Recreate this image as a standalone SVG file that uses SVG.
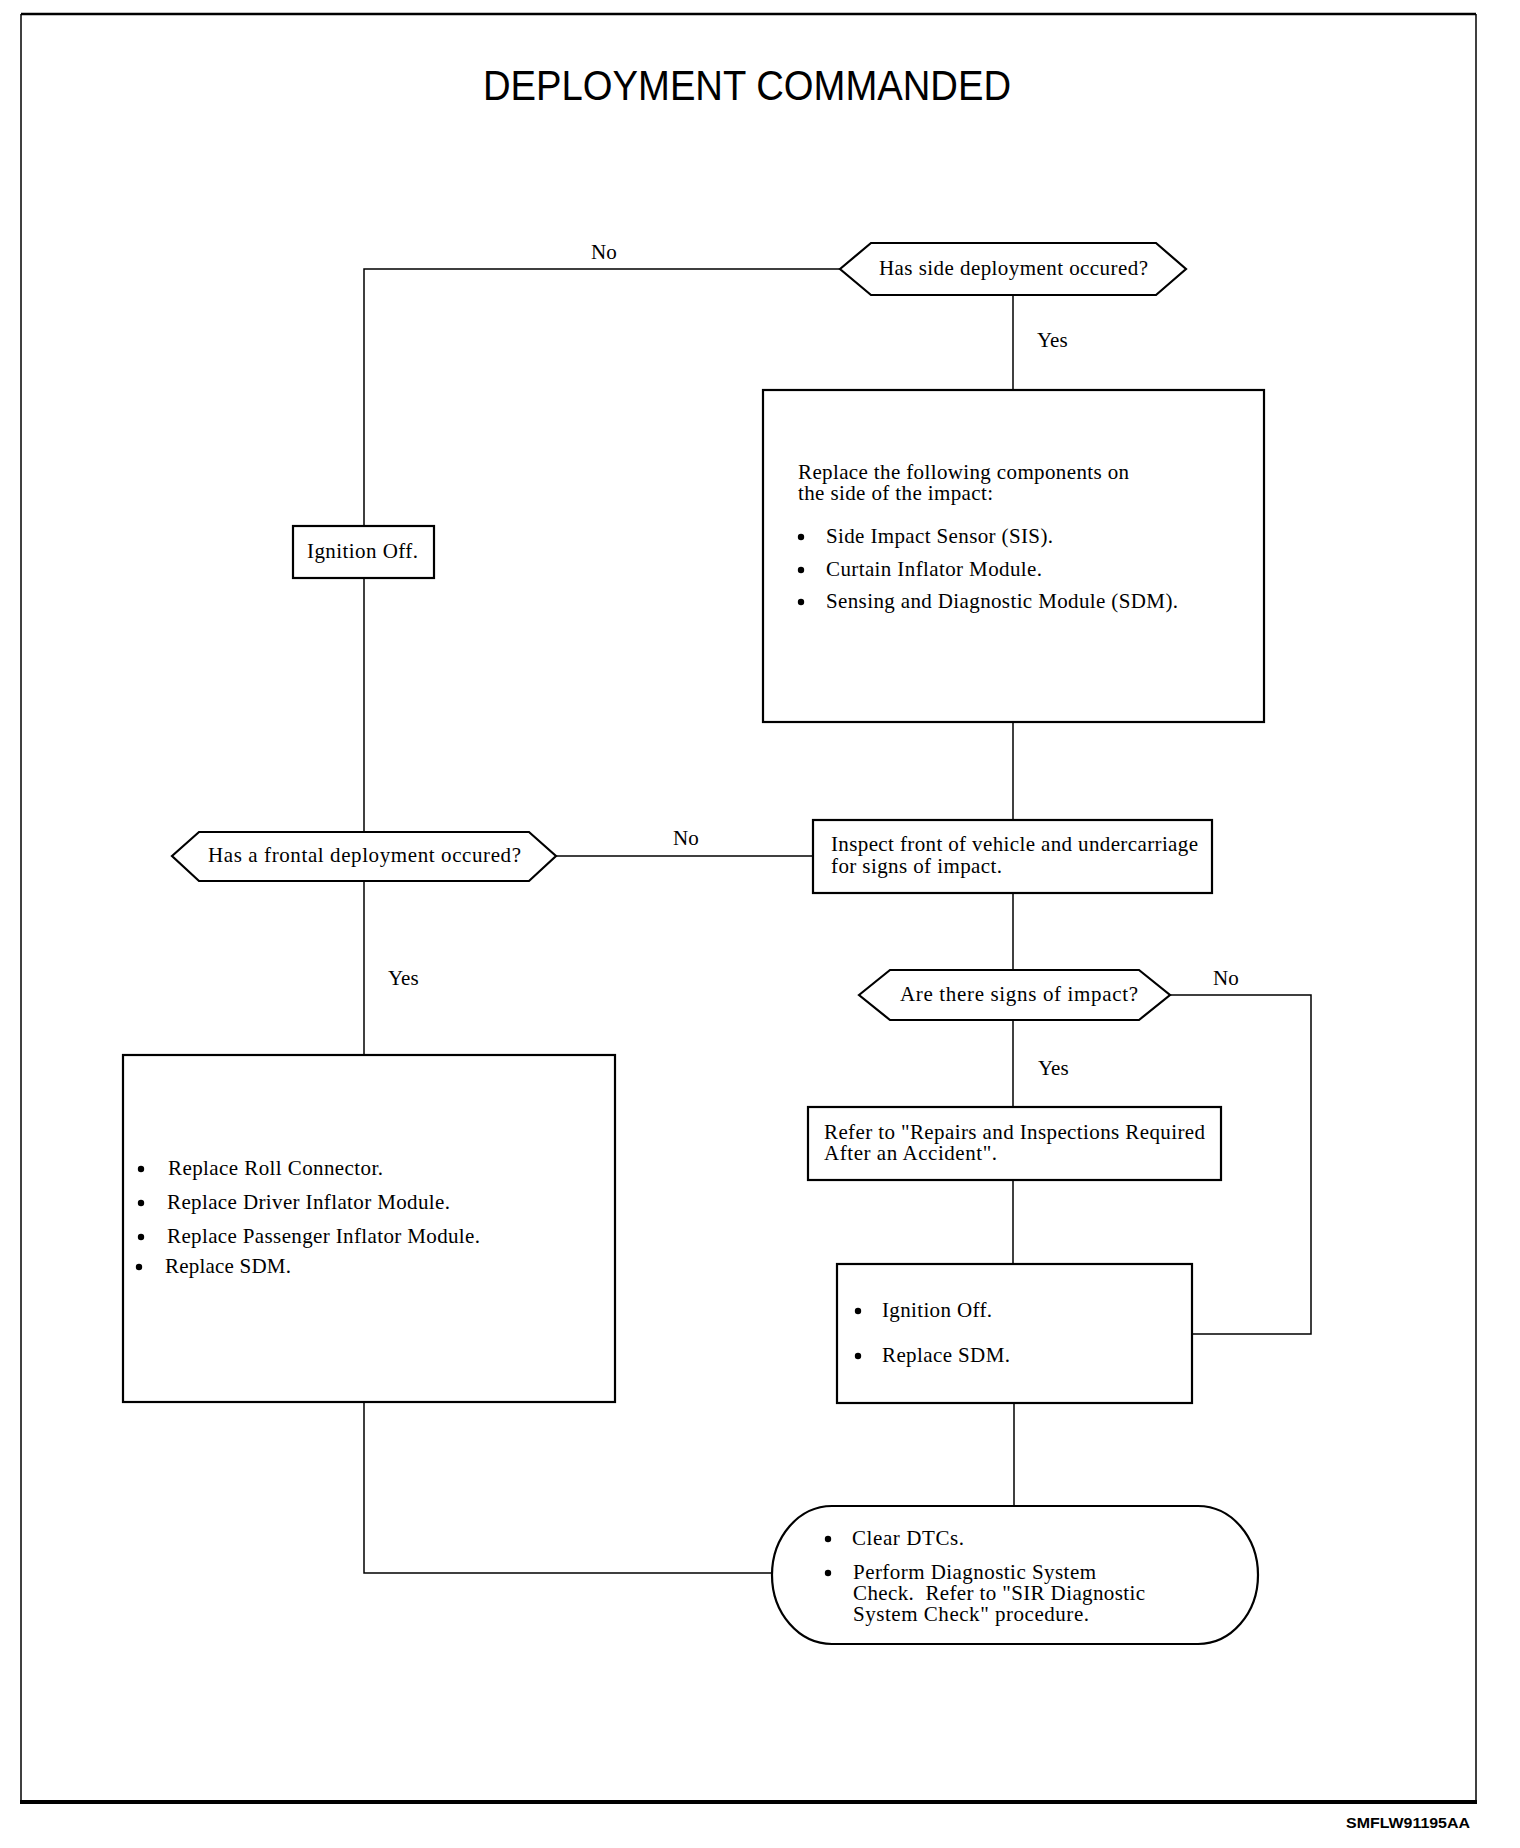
<svg xmlns="http://www.w3.org/2000/svg" width="1520" height="1848" viewBox="0 0 1520 1848">
<style>
.t{font-family:"Liberation Serif","Times New Roman",serif;font-size:21px;fill:#000}
.lb{font-family:"Liberation Serif","Times New Roman",serif;font-size:21px;fill:#000}
.box{fill:#fff;stroke:#000;stroke-width:2.2}
.ln{fill:none;stroke:#000;stroke-width:1.5}
.fr{stroke:#000;fill:none}
.b{fill:#000}
</style>
<rect width="1520" height="1848" fill="#fff"/>
<g id="frame">
<line class="fr" x1="21" y1="14" x2="1476" y2="14" stroke-width="2.5"/>
<line class="fr" x1="21" y1="14" x2="21" y2="1803" stroke-width="1.5"/>
<line class="fr" x1="1476" y1="14" x2="1476" y2="1803" stroke-width="1.5"/>
<line class="fr" x1="20" y1="1802" x2="1477" y2="1802" stroke-width="4"/>
</g>
<text id="title" x="483" y="100" font-family="'Liberation Sans',Arial,sans-serif" font-size="42" textLength="528" lengthAdjust="spacingAndGlyphs">DEPLOYMENT COMMANDED</text>
<text id="code" x="1346" y="1828" font-family="'Liberation Sans',Arial,sans-serif" font-size="15" font-weight="bold" textLength="124" lengthAdjust="spacingAndGlyphs">SMFLW91195AA</text>

<g id="connectors">
<polyline class="ln" points="840,269 364,269 364,526"/>
<line class="ln" x1="364" y1="578" x2="364" y2="832"/>
<line class="ln" x1="1013" y1="295" x2="1013" y2="390"/>
<line class="ln" x1="1013" y1="722" x2="1013" y2="820"/>
<line class="ln" x1="556" y1="856" x2="813" y2="856"/>
<line class="ln" x1="1013" y1="893" x2="1013" y2="970"/>
<line class="ln" x1="1013" y1="1020" x2="1013" y2="1107"/>
<line class="ln" x1="1013" y1="1180" x2="1013" y2="1264"/>
<polyline class="ln" points="1170,995 1311,995 1311,1334 1192,1334"/>
<line class="ln" x1="364" y1="881" x2="364" y2="1055"/>
<polyline class="ln" points="364,1402 364,1573 772,1573"/>
<line class="ln" x1="1014" y1="1403" x2="1014" y2="1506"/>
<text class="lb" x="591" y="259">No</text>
<text class="lb" x="1037" y="347">Yes</text>
<text class="lb" x="673" y="845">No</text>
<text class="lb" x="388" y="985">Yes</text>
<text class="lb" x="1213" y="985">No</text>
<text class="lb" x="1038" y="1075">Yes</text>
</g>

<g id="d1">
<polygon class="box" points="840,269 871,243 1156,243 1186,269 1156,295 871,295"/>
<text class="t" x="879" y="275" textLength="269">Has side deployment occured?</text>
</g>

<g id="box1">
<rect class="box" x="763" y="390" width="501" height="332"/>
<text class="t" x="798" y="479" textLength="331">Replace the following components on</text>
<text class="t" x="798" y="500" textLength="195">the side of the impact:</text>
<circle class="b" cx="801" cy="537" r="3.2"/>
<text class="t" x="826" y="543" textLength="227">Side Impact Sensor (SIS).</text>
<circle class="b" cx="801" cy="570" r="3.2"/>
<text class="t" x="826" y="576" textLength="216">Curtain Inflator Module.</text>
<circle class="b" cx="801" cy="602" r="3.2"/>
<text class="t" x="826" y="608" textLength="352">Sensing and Diagnostic Module (SDM).</text>
</g>

<g id="ign1">
<rect class="box" x="293" y="526" width="141" height="52"/>
<text class="t" x="307" y="558" textLength="111">Ignition Off.</text>
</g>

<g id="d2">
<polygon class="box" points="172,856 199,832 529,832 556,856 529,881 199,881"/>
<text class="t" x="208" y="862" textLength="313">Has a frontal deployment occured?</text>
</g>

<g id="inspect">
<rect class="box" x="813" y="820" width="399" height="73"/>
<text class="t" x="831" y="851" textLength="367">Inspect front of vehicle and undercarriage</text>
<text class="t" x="831" y="873" textLength="171">for signs of impact.</text>
</g>

<g id="d3">
<polygon class="box" points="859,995 890,970 1139,970 1170,995 1139,1020 890,1020"/>
<text class="t" x="900" y="1001" textLength="238">Are there signs of impact?</text>
</g>

<g id="refer">
<rect class="box" x="808" y="1107" width="413" height="73"/>
<text class="t" x="824" y="1139" textLength="381">Refer to "Repairs and Inspections Required</text>
<text class="t" x="824" y="1160" textLength="173">After an Accident".</text>
</g>

<g id="sdm">
<rect class="box" x="837" y="1264" width="355" height="139"/>
<circle class="b" cx="858" cy="1311" r="3.2"/>
<text class="t" x="882" y="1317" textLength="110">Ignition Off.</text>
<circle class="b" cx="858" cy="1356" r="3.2"/>
<text class="t" x="882" y="1362" textLength="128">Replace SDM.</text>
</g>

<g id="left">
<rect class="box" x="123" y="1055" width="492" height="347"/>
<circle class="b" cx="141" cy="1169" r="3.2"/>
<text class="t" x="168" y="1175" textLength="215">Replace Roll Connector.</text>
<circle class="b" cx="141" cy="1203" r="3.2"/>
<text class="t" x="167" y="1209" textLength="283">Replace Driver Inflator Module.</text>
<circle class="b" cx="141" cy="1237" r="3.2"/>
<text class="t" x="167" y="1243" textLength="313">Replace Passenger Inflator Module.</text>
<circle class="b" cx="139" cy="1267" r="3.2"/>
<text class="t" x="165" y="1273" textLength="126">Replace SDM.</text>
</g>

<g id="term">
<rect class="box" x="772" y="1506" width="486" height="138" rx="60" ry="69"/>
<circle class="b" cx="828" cy="1539" r="3.2"/>
<text class="t" x="852" y="1545" textLength="112">Clear DTCs.</text>
<circle class="b" cx="828" cy="1573" r="3.2"/>
<text class="t" x="853" y="1579" textLength="243">Perform Diagnostic System</text>
<text class="t" x="853" y="1600" textLength="292" xml:space="preserve">Check.  Refer to "SIR Diagnostic</text>
<text class="t" x="853" y="1621" textLength="236">System Check" procedure.</text>
</g>
</svg>
